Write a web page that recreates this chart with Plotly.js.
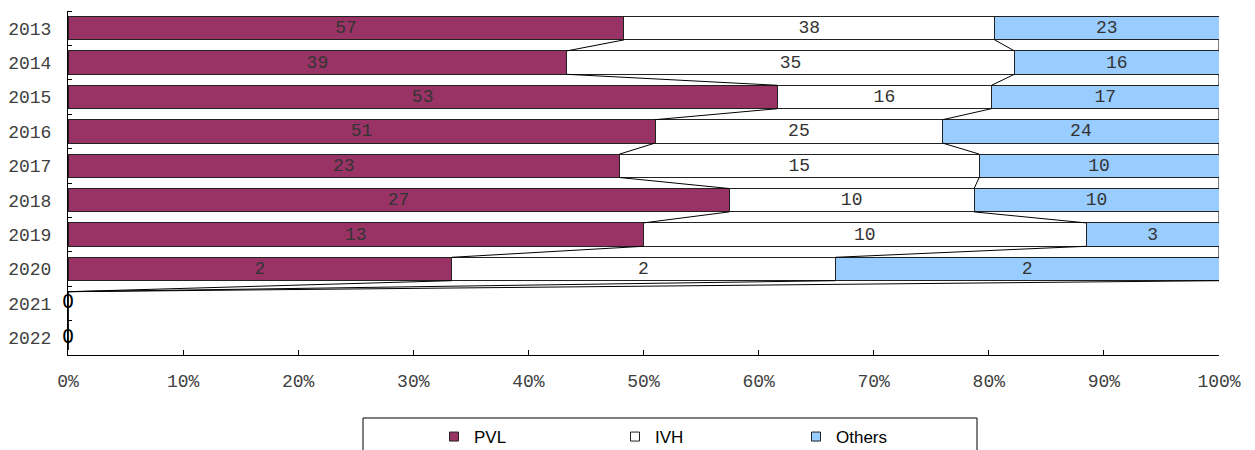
<!DOCTYPE html>
<html>
<head>
<meta charset="utf-8">
<script src="https://cdn.plot.ly/plotly-3.0.1.min.js"></script>
<style>html,body{margin:0;padding:0;background:#fff;}#chart{width:1255px;height:450px;}</style>
</head>
<body>
<div id="chart"></div>
<script>
const years = ['2013','2014','2015','2016','2017','2018','2019','2020','2021','2022'];
const pvl = [57,39,53,51,23,27,13,2,0,0];
const ivh = [38,35,16,25,15,10,10,2,0,0];
const others = [23,16,17,24,10,10,3,2,0,0];
const seriesNames = ['PVL','IVH','Others'];
const seriesColors = ['#993366','#FFFFFF','#99CCFF'];

const idx = years.map((_, i) => i);
const totals = idx.map(i => pvl[i] + ivh[i] + others[i]);
const share = arr => arr.map((v, i) => totals[i] > 0 ? v / totals[i] * 100 : 0);
const sPvl = share(pvl), sIvh = share(ivh), sOth = share(others);
const series = [pvl, ivh, others];
const shares = [sPvl, sIvh, sOth];

const BW = 0.68;
const monoFont = 'Liberation Mono, Courier New, monospace';

const traces = [];
series.forEach((vals, k) => {
  traces.push({
    type: 'bar', orientation: 'h', name: seriesNames[k],
    y: idx, x: shares[k], width: BW,
    text: vals.map(v => v > 0 ? String(v) : ''),
    textposition: 'inside', insidetextanchor: 'middle', constraintext: 'none', textangle: 0,
    textfont: {family: monoFont, size: 18, color: '#333'},
    marker: {color: seriesColors[k], line: {color: '#222', width: 1}},
    hoverinfo: 'skip', showlegend: false
  });
});

// series connector lines between consecutive bars
const b1 = sPvl;
const b2 = idx.map(i => sPvl[i] + sIvh[i]);
const b3 = idx.map(i => sPvl[i] + sIvh[i] + sOth[i]);
[b1, b2, b3].forEach(b => {
  const xs = [], ys = [];
  for (let i = 0; i < idx.length - 1; i++) {
    xs.push(b[i], b[i+1], null);
    ys.push(i + BW/2, i + 1 - BW/2, null);
  }
  traces.push({type: 'scatter', mode: 'lines', x: xs, y: ys,
    line: {color: '#000', width: 1}, hoverinfo: 'skip', showlegend: false, cliponaxis: false});
});

// zero labels for empty years
const zi = idx.filter(i => totals[i] === 0);
traces.push({type: 'scatter', mode: 'text', x: zi.map(() => 0), y: zi, text: zi.map(i => String(totals[i])),
  textposition: 'middle center', textfont: {family: 'DejaVu Sans, sans-serif', size: 19, color: '#000'},
  cliponaxis: false, hoverinfo: 'skip', showlegend: false});

// legend entries
seriesNames.forEach((n, k) => {
  traces.push({type: 'scatter', mode: 'markers', name: n, x: [null], y: [null],
    marker: {symbol: 'square', size: 9, color: seriesColors[k], line: {color: '#222', width: 1}},
    hoverinfo: 'skip'});
});

const L = 68, R = 36, T = 11, B = 95, W = 1255, H = 450;
const pw = W - L - R, ph = H - T - B;
const px = p => (p - L) / pw;
const py = p => (H - B - p) / ph;

const layout = {
  width: W, height: H,
  margin: {l: L, r: R, t: T, b: B, pad: 0, autoexpand: false},
  paper_bgcolor: '#fff', plot_bgcolor: '#fff',
  barmode: 'stack', showlegend: true,
  xaxis: {
    range: [0, 100], tickmode: 'array', tickvals: [0,10,20,30,40,50,60,70,80,90,100],
    ticktext: ['0%','10%','20%','30%','40%','50%','60%','70%','80%','90%','100%'],
    ticks: 'inside', ticklen: 5, tickcolor: '#000', showline: true, linecolor: '#000', linewidth: 1,
    showgrid: false, zeroline: false, ticklabelstandoff: 9, automargin: false,
    tickfont: {family: monoFont, size: 18, color: '#404040'}
  },
  yaxis: {
    range: [idx.length - 0.5, -0.5], tickmode: 'array', tickvals: idx, ticktext: years,
    ticks: '', showline: true, linecolor: '#000', linewidth: 1, showgrid: false, zeroline: false,
    ticklabelstandoff: 12, automargin: false,
    tickfont: {family: monoFont, size: 18, color: '#404040'},
    minor: {tickmode: 'linear', tick0: -0.5, dtick: 1, ticks: 'inside', ticklen: 4, tickcolor: '#000', showgrid: false}
  },
  legend: {
    orientation: 'h', traceorder: 'normal',
    xref: 'container', x: 434 / W, xanchor: 'left',
    yref: 'container', y: (H - 437) / H, yanchor: 'middle',
    entrywidth: 136, entrywidthmode: 'pixels',
    font: {family: 'Liberation Sans, Arial, sans-serif', size: 17, color: '#000'},
    bgcolor: 'rgba(0,0,0,0)', borderwidth: 0
  },
  shapes: [{type: 'rect', xref: 'paper', yref: 'paper', x0: px(363), x1: px(977), y0: py(418), y1: py(470),
    line: {color: '#000', width: 1}, fillcolor: 'rgba(0,0,0,0)', layer: 'below'}]
};

Plotly.newPlot('chart', traces, layout, {staticPlot: true, displayModeBar: false});
</script>
</body>
</html>
